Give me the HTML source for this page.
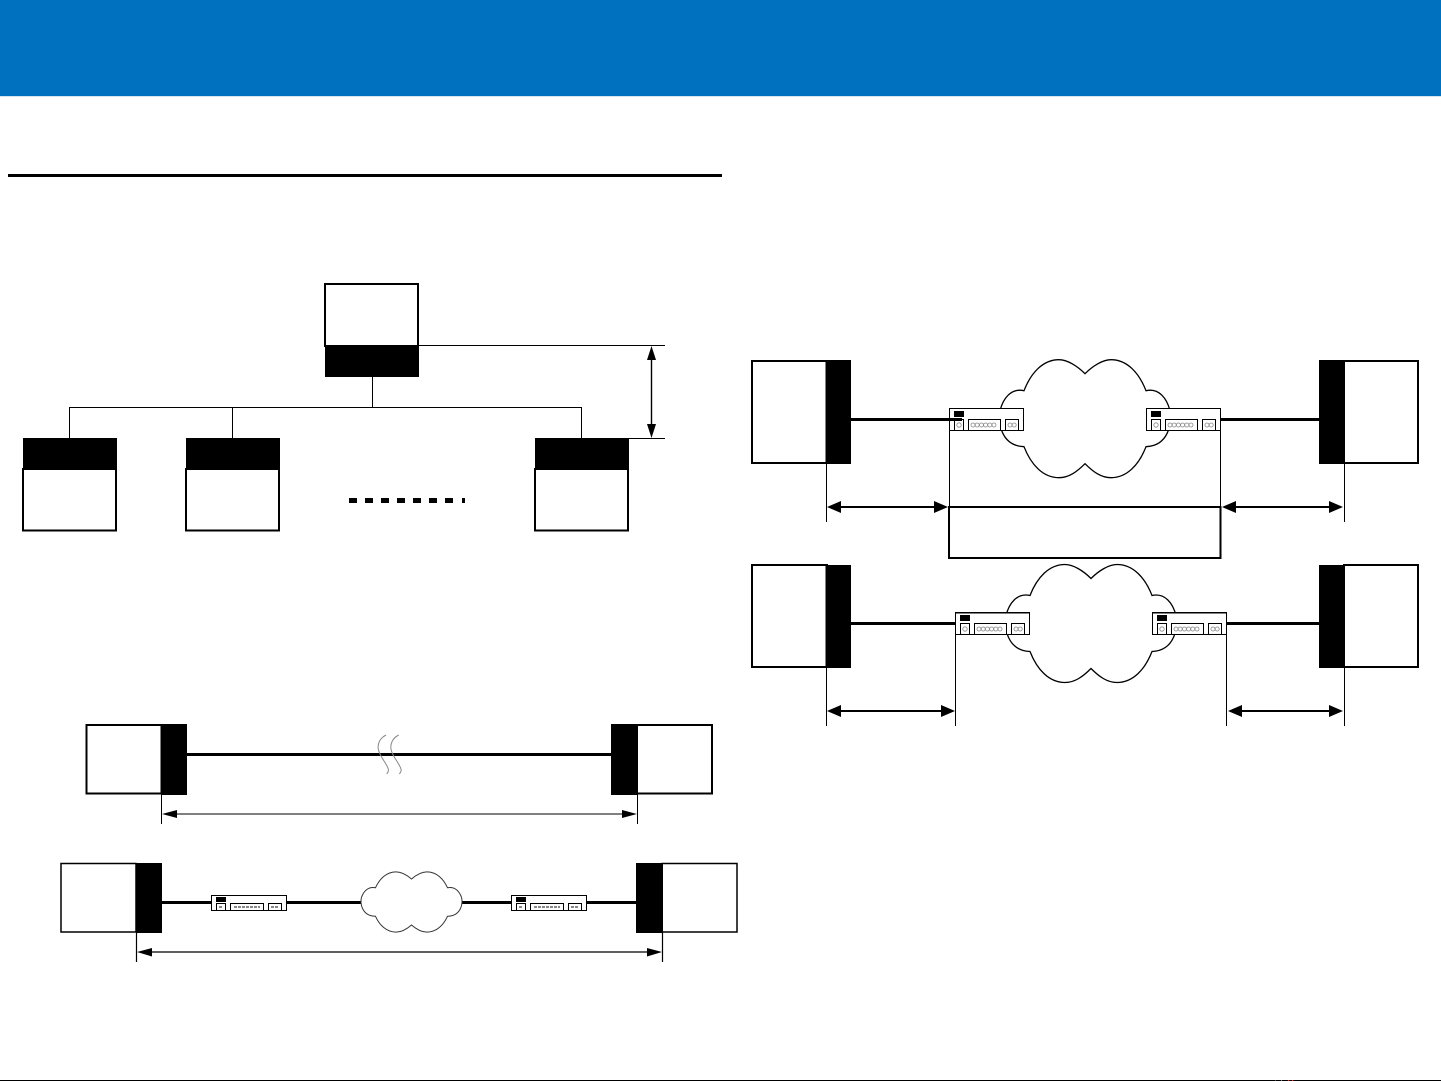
<!DOCTYPE html>
<html>
<head>
<meta charset="utf-8">
<style>
html,body{margin:0;padding:0;background:#fff}
svg{display:block}
</style>
</head>
<body>
<svg xmlns="http://www.w3.org/2000/svg" width="1441" height="1081" viewBox="0 0 1441 1081">
<defs>
<g id="dev">
  <rect x="0.5" y="0.5" width="74" height="22" fill="#fff" stroke="#000" stroke-width="1"/>
  <rect x="5" y="3" width="10" height="6" fill="#000"/>
  <rect x="5.5" y="11.5" width="9" height="11" fill="#fff" stroke="#000"/>
  <rect x="19.5" y="11.5" width="32" height="11" fill="#fff" stroke="#000"/>
  <rect x="56.5" y="11.5" width="13" height="11" fill="#fff" stroke="#000"/>
  <g fill="none" stroke="#888" stroke-width="0.8">
    <circle cx="10" cy="17" r="2.2"/>
    <circle cx="24" cy="17" r="2"/><circle cx="28.2" cy="17" r="2"/><circle cx="32.4" cy="17" r="2"/><circle cx="36.6" cy="17" r="2"/><circle cx="40.8" cy="17" r="2"/><circle cx="45" cy="17" r="2"/>
    <circle cx="61" cy="17" r="2"/><circle cx="65.2" cy="17" r="2"/>
  </g>
</g>
<g id="devs">
  <rect x="0.5" y="0.5" width="75" height="15" fill="#fff" stroke="#000"/>
  <rect x="5" y="2" width="10" height="5" fill="#000"/>
  <rect x="5.5" y="8.5" width="9" height="7" fill="#fff" stroke="#000"/>
  <rect x="19.5" y="8.5" width="33" height="7" fill="#fff" stroke="#000"/>
  <rect x="57.5" y="8.5" width="13" height="7" fill="#fff" stroke="#000"/>
  <path d="M8 12h3M23 12h26M60 12h8" stroke="#888" stroke-width="2" stroke-dasharray="3 1"/>
</g>
<path id="cl" d="M0,-45 C-8,-53 -18,-59 -26,-59 C-42,-59 -54,-46 -61,-28 C-74,-31 -82,-20 -85,-8 C-87,4 -84,27 -61,28 C-54,46 -42,59 -26,59 C-16,59 -8,53 0,45 C8,53 16,59 26,59 C42,59 54,46 61,28 C84,27 87,4 85,-8 C82,-20 74,-31 61,-28 C54,-46 42,-59 26,-59 C18,-59 8,-53 0,-45 Z" fill="#fff" stroke="#000" stroke-width="1.3" vector-effect="non-scaling-stroke"/>
<path id="cls" d="M0,-45 C-8,-53 -18,-59 -26,-59 C-42,-59 -54,-46 -61,-28 C-74,-31 -82,-20 -85,-8 C-87,4 -84,27 -61,28 C-54,46 -42,59 -26,59 C-16,59 -8,53 0,45 C8,53 16,59 26,59 C42,59 54,46 61,28 C84,27 87,4 85,-8 C82,-20 74,-31 61,-28 C54,-46 42,-59 26,-59 C18,-59 8,-53 0,-45 Z" fill="#fff" stroke="#333" stroke-width="1" vector-effect="non-scaling-stroke"/>
</defs>

<rect x="0" y="0" width="1441" height="96" fill="#0071bf"/>
<rect x="0" y="96" width="1441" height="1" fill="#d5e4f0"/>
<rect x="8" y="174" width="714" height="3" fill="#000"/>
<rect x="0" y="1080" width="1441" height="1" fill="#000"/>
<g>
  <rect x="1275" y="1080" width="1" height="1" fill="#33c"/>
  <rect x="1281" y="1080" width="1" height="1" fill="#3a3"/>
  <rect x="1288" y="1080" width="1" height="1" fill="#c33"/>
  <rect x="1292" y="1080" width="1" height="1" fill="#c33"/>
</g>

<!-- tree -->
<g fill="none" stroke="#000" stroke-width="1">
  <path d="M418 345.5H665M629 438.5H665M372.5 377V408M69.5 438V407.5H581.5V438M232.5 408V438"/>
</g>
<rect x="325" y="284" width="93" height="62" fill="#fff" stroke="#000" stroke-width="2"/>
<rect x="325" y="346" width="94" height="31" fill="#000"/>
<g fill="#fff" stroke="#000" stroke-width="2">
  <rect x="23" y="469" width="93" height="61.5"/>
  <rect x="186" y="469" width="93" height="61.5"/>
  <rect x="535" y="469" width="93" height="61.5"/>
</g>
<rect x="23" y="438" width="94" height="31" fill="#000"/>
<rect x="186" y="438" width="94" height="31" fill="#000"/>
<rect x="535" y="438" width="94" height="31" fill="#000"/>
<g fill="#000">
  <rect x="349" y="498" width="8" height="5"/><rect x="365" y="498" width="8" height="5"/><rect x="381" y="498" width="8" height="5"/><rect x="397" y="498" width="8" height="5"/><rect x="413" y="498" width="8" height="5"/><rect x="429" y="498" width="8" height="5"/><rect x="445" y="498" width="8" height="5"/><rect x="462" y="498" width="3" height="5"/>
</g>
<path d="M651.5 358V426" stroke="#000" stroke-width="1.4" fill="none"/>
<path d="M651.5 346L647 360H656Z M651.5 438L647 424H656Z" fill="#000"/>

<!-- lower left 1 -->
<rect x="86.5" y="725" width="75" height="68.5" fill="#fff" stroke="#000" stroke-width="2"/>
<rect x="161" y="724" width="26" height="71" fill="#000"/>
<rect x="637" y="725" width="75" height="68.5" fill="#fff" stroke="#000" stroke-width="2"/>
<rect x="611" y="724" width="27" height="71" fill="#000"/>
<rect x="187" y="753" width="424" height="3" fill="#000"/>
<g fill="none" stroke="#888" stroke-width="1">
  <path d="M386 735C380 738 377 744 378.5 750C380 757 388 765 388.5 770C388.5 772 387.5 773 386.7 774"/>
  <path d="M398.7 735C392.7 738 389.7 744 391.2 750C392.7 757 400.7 765 401.2 770C401.2 772 400.2 773 399.4 774"/>
</g>
<path d="M161.5 795V824M637.5 795V824M170 814H629" stroke="#000" stroke-width="1" fill="none"/>
<path d="M162 814L177 810V818Z M637 814L622 810V818Z" fill="#000"/>

<!-- lower left 2 -->
<rect x="61" y="863.5" width="75" height="68.5" fill="#fff" stroke="#000" stroke-width="1.5"/>
<rect x="136" y="863" width="26" height="70" fill="#000"/>
<rect x="662" y="863.5" width="75" height="68.5" fill="#fff" stroke="#000" stroke-width="1.5"/>
<rect x="636" y="863" width="27" height="70" fill="#000"/>
<rect x="162" y="901" width="474" height="3" fill="#000"/>
<use href="#cls" transform="translate(411.5 902) scale(0.59 0.51)"/>
<use href="#devs" transform="translate(211 895)"/>
<use href="#devs" transform="translate(511 895)"/>
<path d="M136.5 933V962M662.5 933V962M146 952H654" stroke="#000" stroke-width="1.2" fill="none"/>
<path d="M137 952L152 948V956.5Z M662 952L647 948V956.5Z" fill="#000"/>

<!-- right upper -->
<use href="#cl" transform="translate(1085 418.7)"/>
<rect x="752" y="361" width="75" height="102" fill="#fff" stroke="#000" stroke-width="2"/>
<rect x="825.5" y="360" width="25.5" height="104" fill="#000"/>
<rect x="1344" y="361" width="74" height="102" fill="#fff" stroke="#000" stroke-width="2"/>
<rect x="1319" y="360" width="26" height="104" fill="#000"/>
<use href="#dev" transform="translate(949 408)"/>
<use href="#dev" transform="translate(1146 408)"/>
<rect x="851" y="418" width="111" height="3" fill="#000"/>
<rect x="1221" y="418" width="98" height="3" fill="#000"/>
<rect x="949" y="507" width="271.5" height="51" fill="none" stroke="#000" stroke-width="2"/>
<path d="M949.5 430V507M1220.5 430V507M826.5 464V522M1344.5 464V522" stroke="#000" stroke-width="1" fill="none"/>
<path d="M835 507H940M1232 507H1335" stroke="#000" stroke-width="2" fill="none"/>
<path d="M827 507L841 501V513Z M948 507L934 501V513Z M1222 507L1236 501V513Z M1343 507L1329 501V513Z" fill="#000"/>

<!-- right lower -->
<use href="#cl" transform="translate(1091 623.5)"/>
<rect x="752" y="565" width="75" height="102" fill="#fff" stroke="#000" stroke-width="2"/>
<rect x="825.5" y="565" width="25.5" height="103" fill="#000"/>
<rect x="1344" y="565" width="74" height="102" fill="#fff" stroke="#000" stroke-width="2"/>
<rect x="1319" y="565" width="25" height="103" fill="#000"/>
<use href="#dev" transform="translate(955 612)"/>
<use href="#dev" transform="translate(1152 612)"/>
<rect x="955" y="612" width="75" height="1.5" fill="#000"/>
<rect x="1152" y="612" width="75" height="1.5" fill="#000"/>
<rect x="851" y="622" width="105" height="3" fill="#000"/>
<rect x="1227" y="622" width="92" height="3" fill="#000"/>
<path d="M826.5 668V726M955.5 634V726M1226.5 634V726M1344.5 668V726" stroke="#000" stroke-width="1" fill="none"/>
<path d="M835 711H947M1236 711H1335" stroke="#000" stroke-width="2" fill="none"/>
<path d="M827 711L841 705V717Z M955 711L941 705V717Z M1228 711L1242 705V717Z M1343 711L1329 705V717Z" fill="#000"/>
</svg>
</body>
</html>
